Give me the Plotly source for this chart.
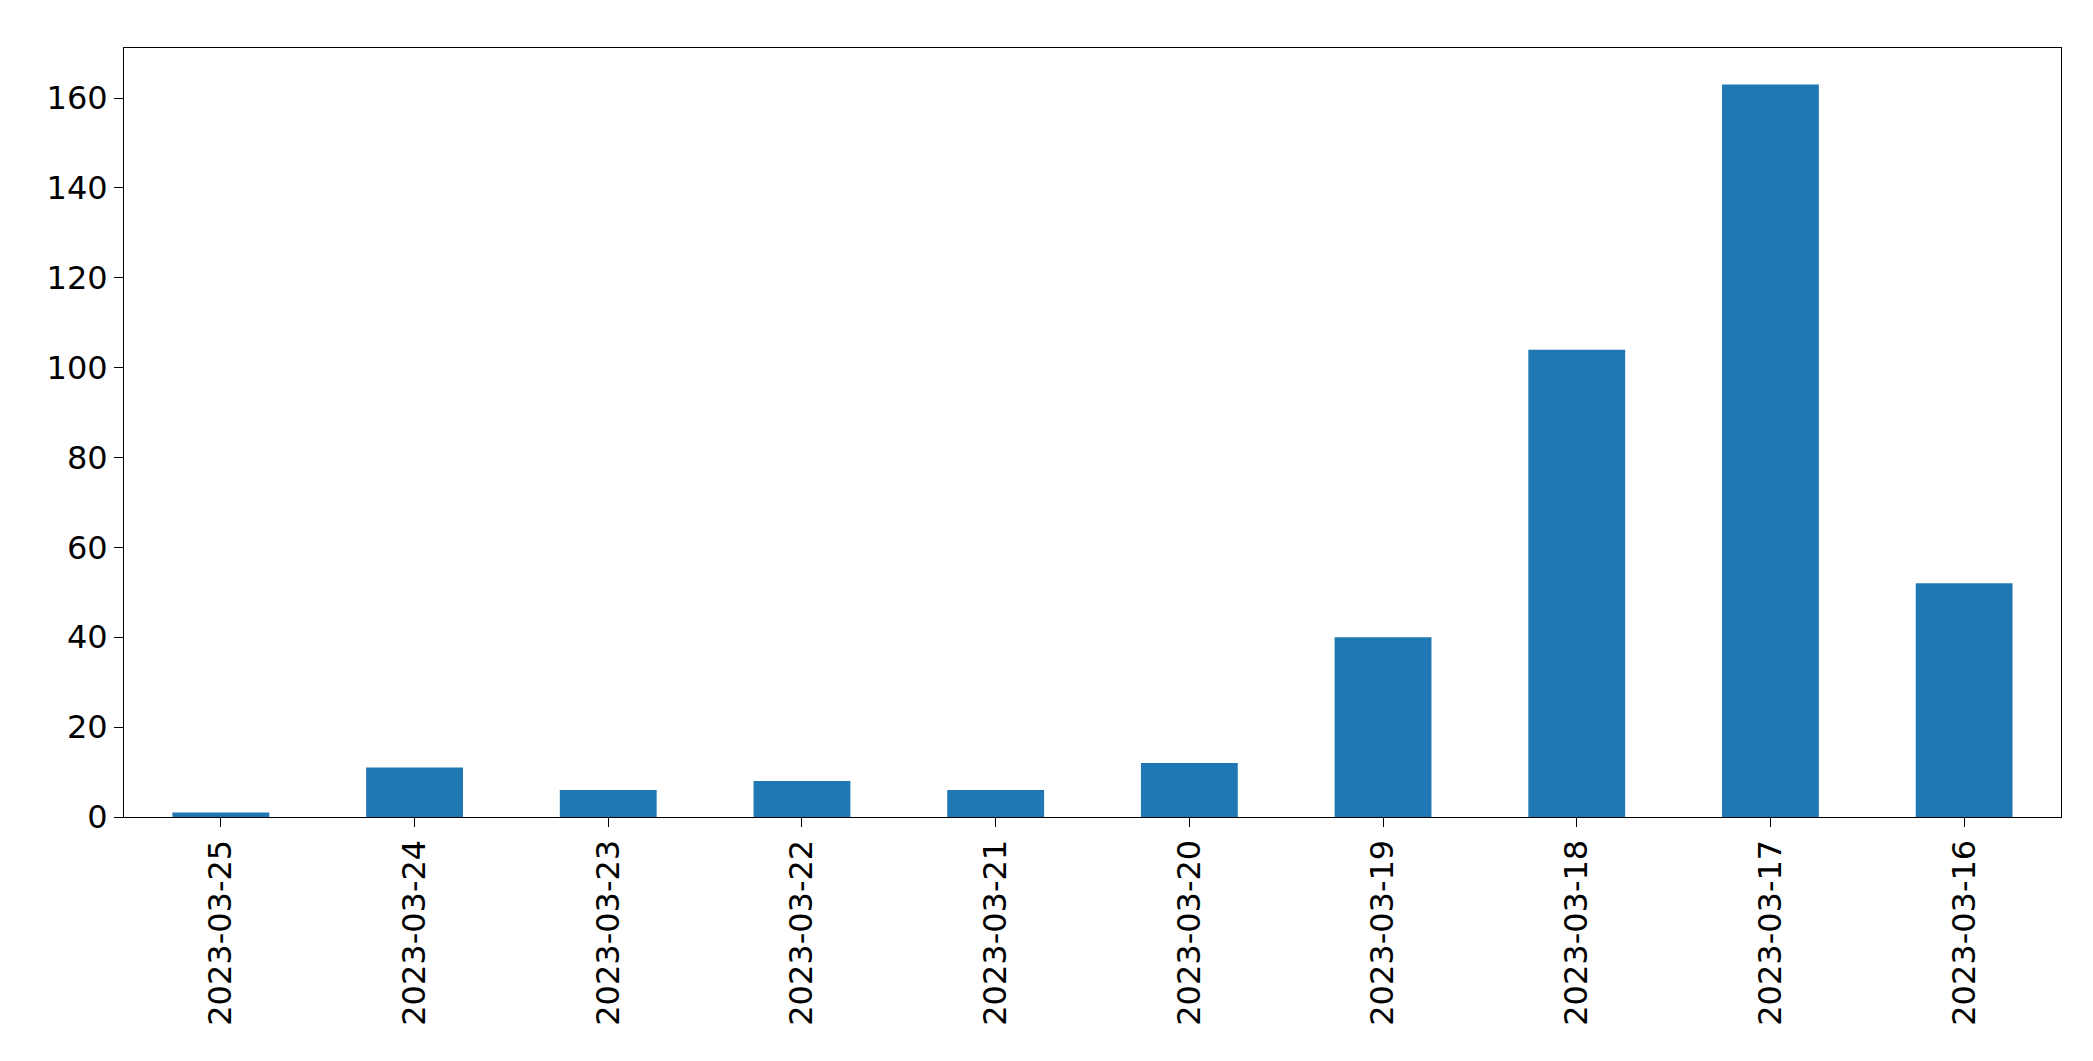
import plotly.graph_objects as go

dates = ["2023-03-25","2023-03-24","2023-03-23","2023-03-22","2023-03-21",
         "2023-03-20","2023-03-19","2023-03-18","2023-03-17","2023-03-16"]
counts = [1, 11, 6, 8, 6, 12, 40, 104, 163, 52]

fig = go.Figure(go.Bar(x=dates, y=counts, width=0.5, marker_color="#1f77b4",
                       marker_line_width=0))
fig.update_layout(
    width=2093, height=1061, plot_bgcolor="white", paper_bgcolor="white",
    margin=dict(l=116, r=40, t=40, b=252), showlegend=False,
    font=dict(family="DejaVu Sans", size=32, color="black"),
)
fig.update_xaxes(type="category", range=[-0.5, 9.5], tickangle=-90,
                 showline=True, linecolor="black", linewidth=1, mirror=True,
                 ticks="outside", ticklen=9, tickcolor="black", showgrid=False)
fig.update_yaxes(range=[0, 171.15], dtick=20, showline=True, linecolor="black",
                 linewidth=1, mirror=True, ticks="outside", ticklen=9,
                 tickcolor="black", showgrid=False, zeroline=False)
fig.write_html("out.html")
